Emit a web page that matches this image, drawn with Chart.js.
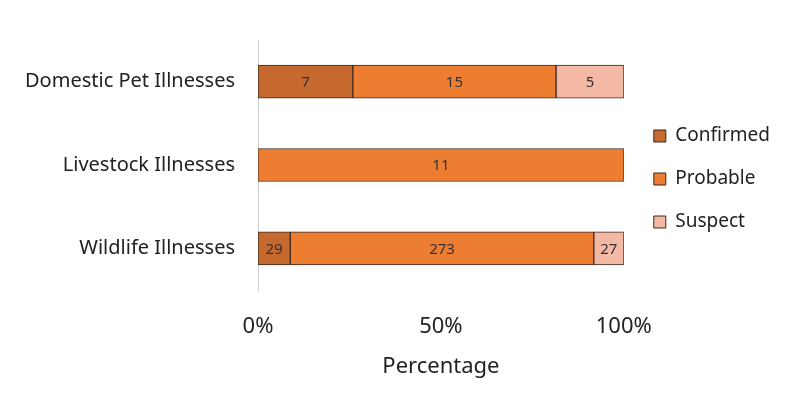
<!DOCTYPE html>
<html lang="en">
<head>
  <meta charset="UTF-8">
  <title>Illnesses by Case Status</title>
  <script src="https://cdn.jsdelivr.net/npm/chart.js"></script>
  <style>
    html, body { margin: 0; padding: 0; background: #fff; }
    #wrap { width: 800px; height: 399px; }
  </style>
</head>
<body>
<div id="wrap"><canvas id="chart"></canvas></div>
<script>
  const categories = ['Domestic Pet Illnesses', 'Livestock Illnesses', 'Wildlife Illnesses'];
  const confirmed = [7, 0, 29];
  const probable = [15, 11, 273];
  const suspect = [5, 0, 27];
  const xTicks = [0, 50, 100];

  const totals = categories.map((c, i) => confirmed[i] + probable[i] + suspect[i]);
  const pct = arr => arr.map((v, i) => v / totals[i] * 100);

  const FONT = "'Noto Sans', sans-serif";

  // writes the raw counts in the middle of each segment
  const countLabels = {
    id: 'countLabels',
    afterDatasetsDraw(chart) {
      const ctx = chart.ctx;
      ctx.save();
      ctx.font = '15px ' + FONT;
      ctx.fillStyle = '#333';
      ctx.textAlign = 'center';
      ctx.textBaseline = 'middle';
      chart.data.datasets.forEach((ds, di) => {
        chart.getDatasetMeta(di).data.forEach((bar, i) => {
          const n = ds.counts[i];
          if (!n) return;
          ctx.fillText(String(n), (bar.x + bar.base) / 2, bar.y + 1);
        });
      });
      ctx.restore();
    }
  };

  // small shift of the legend block so it sits like the original
  const legendNudge = {
    id: 'legendNudge',
    afterLayout(chart) {
      const lg = chart.legend;
      if (!lg) return;
      lg.left += 6; lg.right += 6;
      lg.top += 14; lg.bottom += 14;
    }
  };

  const makeSet = (label, counts, color) => ({
    label: label,
    counts: counts,
    data: pct(counts),
    backgroundColor: color,
    borderColor: '#3a2a20',
    borderWidth: c => (counts[c.dataIndex] ? 1 : 0),
    borderSkipped: false,
    barThickness: 33
  });

  new Chart(document.getElementById('chart'), {
    type: 'bar',
    data: {
      labels: categories,
      datasets: [
        makeSet('Confirmed', confirmed, '#c5692f'),
        makeSet('Probable', probable, '#ed7d31'),
        makeSet('Suspect', suspect, '#f4b9a5')
      ]
    },
    options: {
      indexAxis: 'y',
      responsive: true,
      maintainAspectRatio: false,
      animation: false,
      layout: { padding: { top: 40, right: 26, left: 0, bottom: 15 } },
      plugins: {
        tooltip: { enabled: false },
        legend: {
          position: 'right',
          fullSize: false,
          labels: {
            font: { family: FONT, size: 19 },
            color: '#222',
            boxWidth: 12,
            boxHeight: 12,
            padding: 24,
            generateLabels(chart) {
              return chart.data.datasets.map((ds, i) => ({
                text: ds.label,
                fillStyle: ds.backgroundColor,
                strokeStyle: '#3a2a20',
                lineWidth: 1,
                fontColor: '#222',
                datasetIndex: i
              }));
            }
          }
        }
      },
      scales: {
        x: {
          stacked: true,
          min: 0,
          max: 100,
          afterBuildTicks(axis) { axis.ticks = xTicks.map(v => ({ value: v })); },
          afterFit(axis) { axis.height = 94; },
          ticks: {
            callback: v => v + '%',
            font: { family: FONT, size: 22 },
            color: '#222',
            padding: 24
          },
          grid: { display: false, drawTicks: false },
          border: { display: false },
          title: {
            display: true,
            text: 'Percentage',
            font: { family: FONT, size: 22 },
            color: '#222',
            padding: { top: 15, bottom: 4 }
          }
        },
        y: {
          stacked: true,
          afterFit(axis) { axis.width = 258; },
          ticks: {
            font: { family: FONT, size: 20 },
            color: '#222',
            padding: 23
          },
          grid: { display: false, drawTicks: false },
          border: { display: true, color: '#d0d0d0', width: 1 }
        }
      }
    },
    plugins: [countLabels, legendNudge]
  });
</script>
</body>
</html>
